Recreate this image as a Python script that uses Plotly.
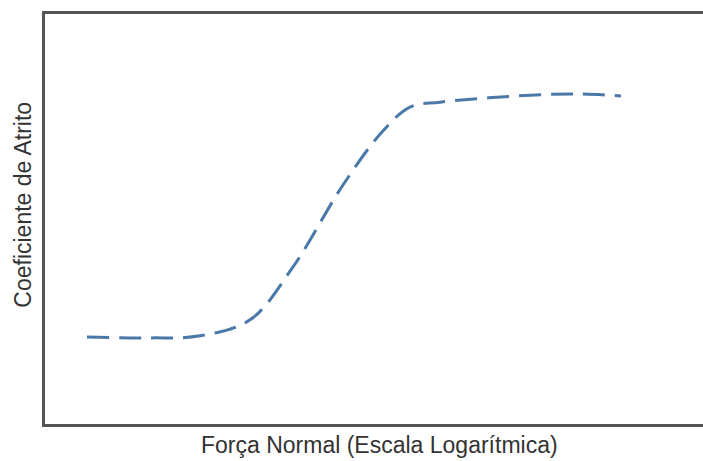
import plotly.graph_objects as go

# Normal force on a log scale (decades, arbitrary origin) vs. friction coefficient (relative)
log_force = [1.000, 1.944, 2.693, 3.442, 4.086, 4.835, 5.419, 5.839,
             6.288, 7.637, 8.386, 9.000]
friction = [0.212, 0.210, 0.215, 0.254, 0.383, 0.583, 0.712, 0.773,
            0.785, 0.802, 0.805, 0.800]

x_title = "Força Normal (Escala Logarítmica)"
y_title = "Coeficiente de Atrito"

fig = go.Figure()
fig.add_trace(go.Scatter(
    x=log_force, y=friction, mode="lines",
    line=dict(color="#4a78a8", width=3, dash="22px,10px", shape="spline", smoothing=1.0),
    hoverinfo="skip", showlegend=False,
))

axis_line = dict(showline=True, linecolor="#555555", linewidth=2.5,
                 showgrid=False, zeroline=False, showticklabels=False, ticks="")

fig.update_xaxes(range=[0.371, 10.228], mirror=True, **axis_line)
fig.update_yaxes(range=[0, 1], mirror=False, **axis_line)

font = dict(family="Liberation Sans, Arial, sans-serif", size=23, color="#333333")
fig.add_annotation(text=x_title, xref="paper", yref="paper", x=0.509, y=-0.051,
                   xanchor="center", yanchor="middle", showarrow=False, font=font)
fig.add_annotation(text=y_title, xref="paper", yref="paper", x=-0.034, y=0.534,
                   xanchor="center", yanchor="middle", textangle=-90, showarrow=False, font=font)

fig.update_layout(
    width=703, height=461,
    margin=dict(l=45, r=0, t=14, b=37),
    paper_bgcolor="white", plot_bgcolor="white",
)

fig.write_html("out.html")
